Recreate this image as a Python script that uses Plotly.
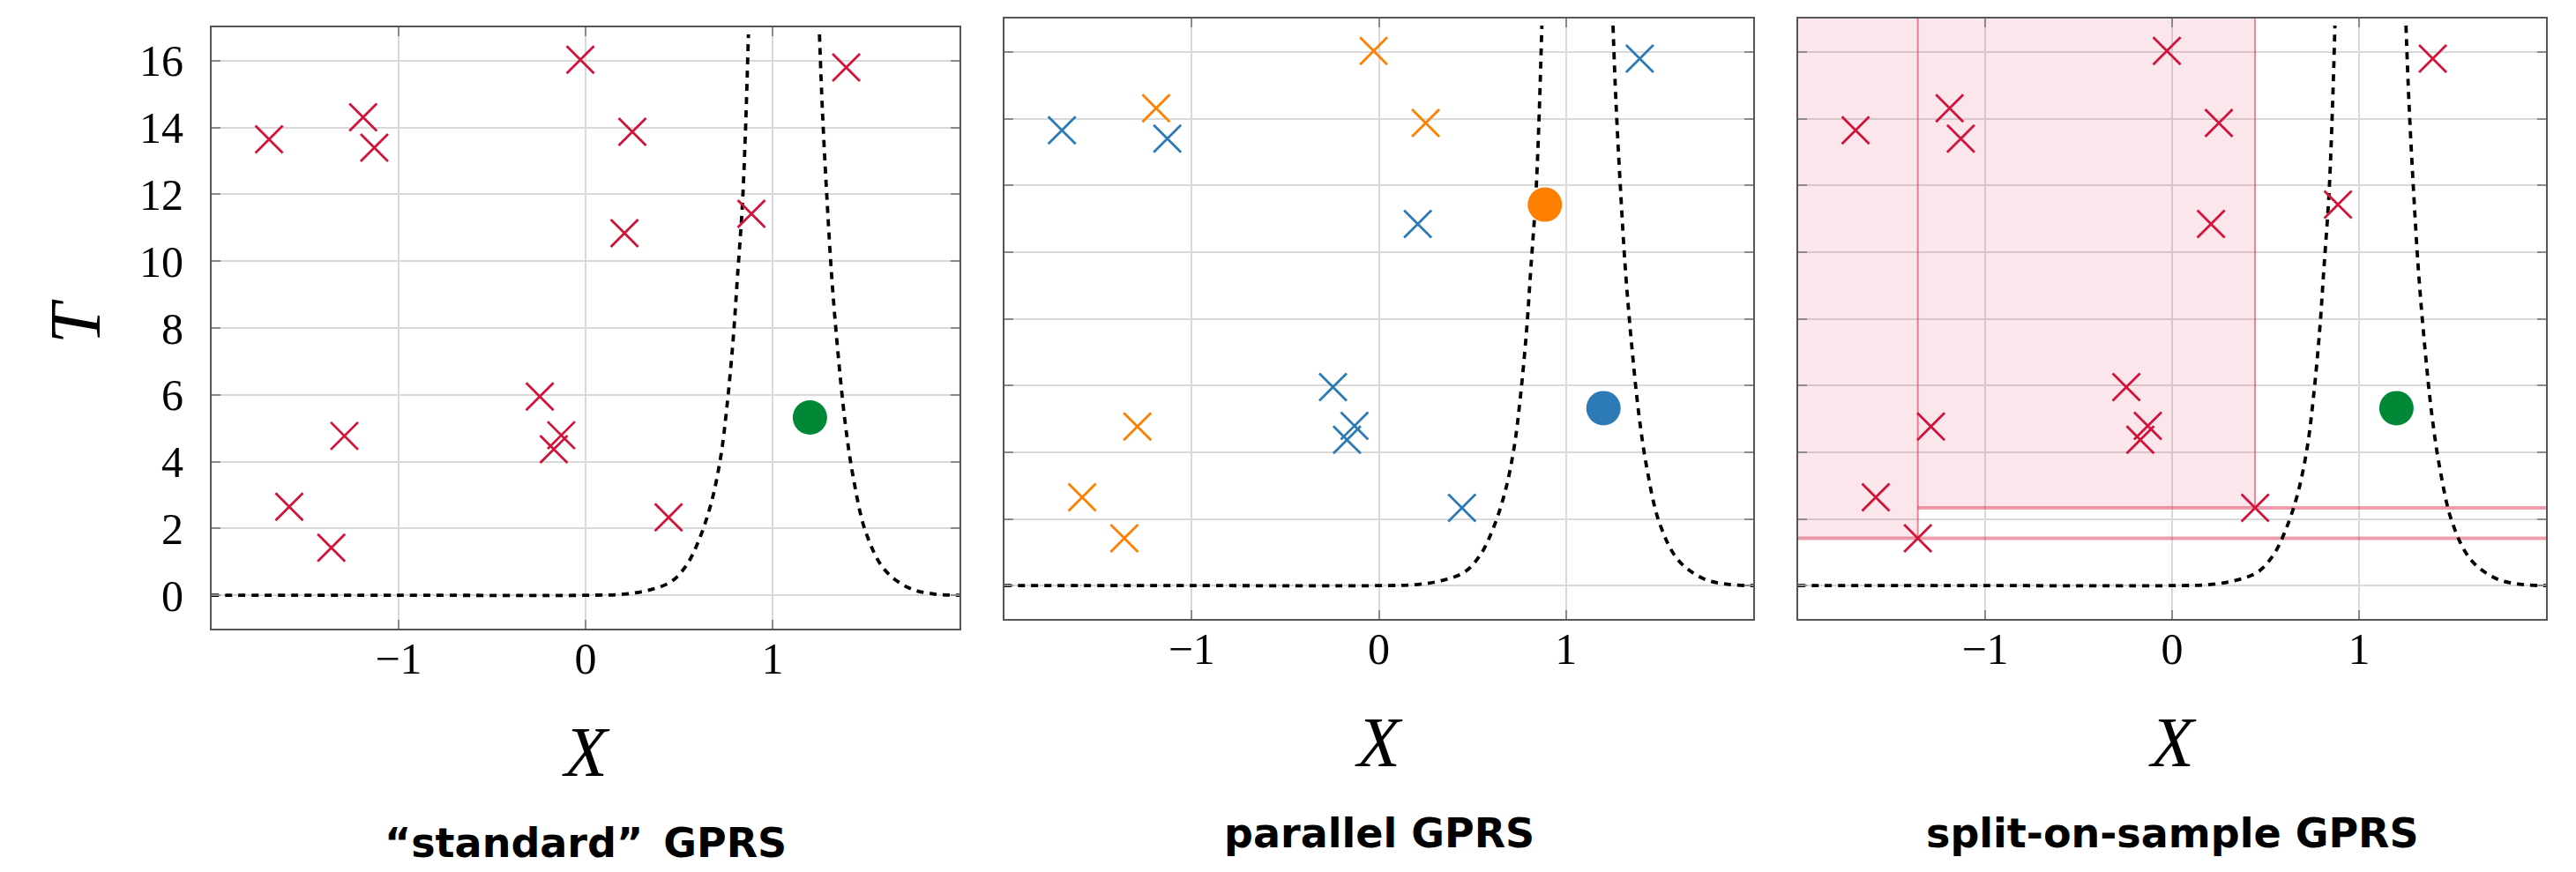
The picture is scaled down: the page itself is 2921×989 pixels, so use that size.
import plotly.graph_objects as go

# ---------------- data ----------------
# proposed samples (X, T) shared by all three panels
sample_x = [-1.693, -1.585, -1.36, -1.19, -1.13, -1.29, -0.245, -0.13, -0.17, -0.028, 0.25, 0.208, 0.444, 0.887, 1.394]
sample_t = [13.65, 2.65, 1.42, 14.31, 13.40, 4.77, 5.95, 4.79, 4.37, 16.03, 13.87, 10.84, 2.33, 11.42, 15.80]

# accepted sample (standard / split-on-sample)
accepted_x = [1.20]
accepted_t = [5.32]

# parallel GPRS: two interleaved processes
orange_x = [-0.028, -1.19, 0.25, -1.29, -1.585, -1.36]
orange_t = [16.03, 14.31, 13.87, 4.77, 2.65, 1.42]
blue_x = [-1.693, -1.13, 0.208, -0.245, -0.13, -0.17, 0.444, 1.394]
blue_t = [13.65, 13.40, 10.84, 5.95, 4.79, 4.37, 2.33, 15.80]
orange_acc_x = [0.887]
orange_acc_t = [11.42]
blue_acc_x = [1.20]
blue_acc_t = [5.32]

# dashed acceptance boundary, read point by point (two branches, clipped at the top)
curve_left_x = [-2.0, -1.0, 0.0, 0.2, 0.343, 0.459, 0.541, 0.607, 0.673, 0.723, 0.756, 0.789, 0.812, 0.838, 0.855, 0.871]
curve_left_t = [0.0, 0.0, 0.0, 0.03, 0.16, 0.41, 0.91, 1.66, 2.78, 4.15, 5.64, 7.63, 9.50, 11.62, 13.86, 16.79]
curve_right_x = [1.251, 1.267, 1.29, 1.317, 1.35, 1.389, 1.432, 1.498, 1.597, 1.729, 1.861, 2.0]
curve_right_t = [16.79, 14.48, 11.99, 9.50, 7.26, 5.14, 3.52, 1.90, 0.78, 0.22, 0.04, 0.0]

# split-on-sample: split points
split_x = [-1.36, 0.444]
split_t = [1.42, 2.33]

x_ticks = [-1, 0, 1]
x_tick_text = ["\u22121", "0", "1"]
y_ticks = [0, 2, 4, 6, 8, 10, 12, 14, 16]
x_range = [-2, 2]
y_range = [-1, 17]

titles = ["\u201cstandard\u201d\u2002GPRS", "parallel GPRS", "split-on-sample GPRS"]

# ---------------- styling ----------------
RED = "#d0143a"
GREEN = "#008837"
BLUE = "#2c7bb6"
ORANGE = "#ff7f00"
W, H = 2921, 989

fig = go.Figure()

curve_x = curve_left_x + [None] + curve_right_x
curve_t = curve_left_t + [None] + curve_right_t


def add_curve(i):
    fig.add_trace(go.Scatter(x=curve_x, y=curve_t, mode="lines", xaxis=f"x{i}", yaxis=f"y{i}",
                             line=dict(color="black", width=3.8, dash="8px,7px", shape="spline"),
                             connectgaps=False, hoverinfo="skip"))


# panel 3 shaded region (drawn first, under everything)
fill_x = [x_range[0], x_range[0], split_x[0], split_x[0], split_x[1], split_x[1], x_range[0]]
fill_t = [y_range[1], split_t[0], split_t[0], split_t[1], split_t[1], y_range[1], y_range[1]]
fig.add_trace(go.Scatter(x=fill_x, y=fill_t, mode="lines", fill="toself", xaxis="x3", yaxis="y3",
                         fillcolor="rgba(215,40,70,0.11)", line=dict(width=0), hoverinfo="skip"))
# split lines
fig.add_trace(go.Scatter(x=[split_x[0], split_x[0], None, split_x[1], split_x[1]],
                         y=[split_t[0], y_range[1], None, split_t[1], y_range[1]],
                         mode="lines", xaxis="x3", yaxis="y3",
                         line=dict(color="rgba(215,40,70,0.55)", width=2), hoverinfo="skip"))
fig.add_trace(go.Scatter(x=[x_range[0], x_range[1], None, split_x[0], x_range[1]],
                         y=[split_t[0], split_t[0], None, split_t[1], split_t[1]],
                         mode="lines", xaxis="x3", yaxis="y3",
                         line=dict(color="rgba(215,40,70,0.45)", width=4), hoverinfo="skip"))

for i in (1, 2, 3):
    add_curve(i)

# panel 1
fig.add_trace(go.Scatter(x=sample_x, y=sample_t, mode="markers", xaxis="x1", yaxis="y1",
                         marker=dict(color=RED, line=dict(color=RED, width=2.8), symbol="x-thin", size=31)))
fig.add_trace(go.Scatter(x=accepted_x, y=accepted_t, mode="markers", xaxis="x1", yaxis="y1",
                         marker=dict(color=GREEN, size=39, line=dict(width=0))))
# panel 2
fig.add_trace(go.Scatter(x=orange_x, y=orange_t, mode="markers", xaxis="x2", yaxis="y2",
                         marker=dict(color=ORANGE, line=dict(color=ORANGE, width=2.8), symbol="x-thin", size=31)))
fig.add_trace(go.Scatter(x=blue_x, y=blue_t, mode="markers", xaxis="x2", yaxis="y2",
                         marker=dict(color=BLUE, line=dict(color=BLUE, width=2.8), symbol="x-thin", size=31)))
fig.add_trace(go.Scatter(x=orange_acc_x, y=orange_acc_t, mode="markers", xaxis="x2", yaxis="y2",
                         marker=dict(color=ORANGE, size=39, line=dict(width=0))))
fig.add_trace(go.Scatter(x=blue_acc_x, y=blue_acc_t, mode="markers", xaxis="x2", yaxis="y2",
                         marker=dict(color=BLUE, size=39, line=dict(width=0))))
# panel 3
fig.add_trace(go.Scatter(x=sample_x, y=sample_t, mode="markers", xaxis="x3", yaxis="y3",
                         marker=dict(color=RED, line=dict(color=RED, width=2.8), symbol="x-thin", size=31)))
fig.add_trace(go.Scatter(x=accepted_x, y=accepted_t, mode="markers", xaxis="x3", yaxis="y3",
                         marker=dict(color=GREEN, size=39, line=dict(width=0))))

# panel frames in pixels: (left, right, top, bottom)
frames = [(232, 1080, 23, 705), (1131, 1980, 13, 694), (2031, 2879, 13, 694)]

tickfont = dict(family="Liberation Serif", size=50, color="black")
layout = dict(width=W, height=H, autosize=False, margin=dict(l=0, r=0, t=0, b=0),
              paper_bgcolor="white", plot_bgcolor="white", showlegend=False)

annotations = []
for i, (l, r, t, b) in enumerate(frames, start=1):
    common = dict(showgrid=True, gridcolor="#d9d9d9", gridwidth=1.5, zeroline=False,
                  showline=True, linecolor="#555555", linewidth=2, mirror="ticks",
                  ticks="inside", ticklen=10, tickwidth=1.5, tickcolor="#8a8a8a",
                  tickfont=tickfont, fixedrange=True)
    layout[f"xaxis{i}"] = dict(domain=[l / W, r / W], range=x_range, tickvals=x_ticks,
                               ticktext=x_tick_text, anchor=f"y{i}", ticklabelstandoff=-11, **common)
    layout[f"yaxis{i}"] = dict(domain=[(H - b) / H, (H - t) / H], range=y_range, tickvals=y_ticks,
                               anchor=f"x{i}", showticklabels=(i == 1), ticklabelstandoff=20, **common)
    cx = (l + r) / 2
    annotations.append(dict(text="<i>X</i>", x=cx / W, y=(H - (b + 140)) / H, xref="paper", yref="paper",
                            xanchor="center", yanchor="middle", showarrow=False,
                            font=dict(family="Liberation Serif", size=80, color="black")))
    annotations.append(dict(text=f"<b>{titles[i - 1]}</b>", x=cx / W, y=(H - (b + 243)) / H,
                            xref="paper", yref="paper", xanchor="center", yanchor="middle",
                            showarrow=False, font=dict(family="DejaVu Sans", size=46, color="black")))

annotations.append(dict(text="<i>T</i>", x=78 / W, y=(H - 357) / H, xref="paper", yref="paper",
                        xanchor="center", yanchor="middle", showarrow=False, textangle=-90,
                        font=dict(family="Liberation Serif", size=82, color="black")))
layout["annotations"] = annotations
fig.update_layout(**layout)

fig.write_html("out.html")
